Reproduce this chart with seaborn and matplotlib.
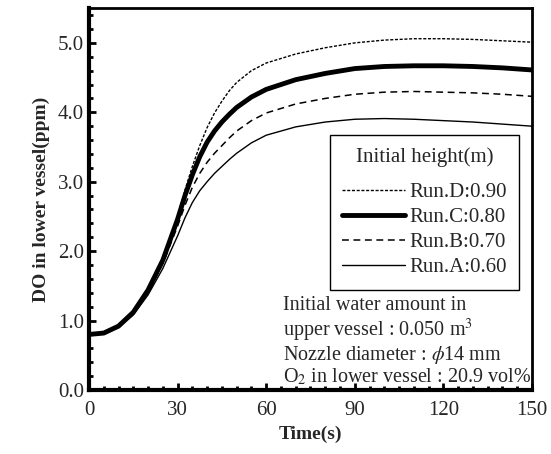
import matplotlib
matplotlib.use("Agg")
import matplotlib.pyplot as plt
import seaborn as sns
import pandas as pd
from matplotlib.ticker import MultipleLocator, FormatStrFormatter

time_s = [0, 5, 10, 15, 20, 25, 30, 32.5, 35, 37.5, 40, 42.5, 45, 47.5, 50, 55, 60, 70, 80, 90, 100, 110, 120, 130, 140, 150]
run_d = [0.80, 0.82, 0.92, 1.12, 1.44, 1.88, 2.50, 2.88, 3.22, 3.52, 3.78, 3.99, 4.16, 4.31, 4.43, 4.60, 4.71, 4.84, 4.93, 5.00, 5.04, 5.06, 5.06, 5.05, 5.03, 5.01]
run_c = [0.80, 0.82, 0.92, 1.12, 1.44, 1.87, 2.46, 2.80, 3.10, 3.36, 3.57, 3.73, 3.86, 3.97, 4.07, 4.22, 4.33, 4.47, 4.56, 4.63, 4.66, 4.67, 4.67, 4.66, 4.64, 4.61]
run_b = [0.80, 0.82, 0.91, 1.10, 1.41, 1.82, 2.36, 2.66, 2.92, 3.12, 3.28, 3.41, 3.52, 3.63, 3.73, 3.88, 3.99, 4.12, 4.20, 4.26, 4.29, 4.30, 4.29, 4.28, 4.26, 4.23]
run_a = [0.80, 0.81, 0.90, 1.08, 1.37, 1.75, 2.22, 2.48, 2.70, 2.87, 3.00, 3.12, 3.22, 3.32, 3.41, 3.56, 3.67, 3.79, 3.86, 3.90, 3.91, 3.90, 3.88, 3.86, 3.83, 3.80]
labels = ["Run.D:0.90", "Run.C:0.80", "Run.B:0.70", "Run.A:0.60"]

sns.set_style("white")
plt.rcParams["font.family"] = ["Liberation Serif", "DejaVu Serif"]
plt.rcParams["mathtext.fontset"] = "stix"

fig = plt.figure(figsize=(5.51, 4.54), dpi=100)
ax = fig.add_axes([0.1615, 0.141, 0.804, 0.841])

series = [run_d, run_c, run_b, run_a]
styles = [dict(lw=1.0, ls=(0, (2.2, 1.2))),
          dict(lw=3.5, ls="-"),
          dict(lw=1.1, ls=(0, (4.5, 3))),
          dict(lw=1.0, ls="-")]
for vals, lab, st in zip(series, labels, styles):
    df = pd.DataFrame({"t": time_s, "v": vals})
    sns.lineplot(data=df, x="t", y="v", ax=ax, color="black", label=lab,
                 linewidth=st["lw"], linestyle=st["ls"])

ax.set_xlim(0, 150)
ax.set_ylim(0, 5.5)
ax.xaxis.set_major_locator(MultipleLocator(30))
ax.xaxis.set_minor_locator(MultipleLocator(5))
ax.yaxis.set_major_locator(MultipleLocator(1))
ax.yaxis.set_minor_locator(MultipleLocator(0.2))
ax.yaxis.set_major_formatter(FormatStrFormatter("%.1f"))
ax.tick_params(which="both", direction="in", top=False, right=False,
               bottom=True, left=True, labelsize=15, color="black")
ax.tick_params(which="major", length=5, width=2)
ax.tick_params(which="minor", length=3, width=2)
ax.tick_params(axis="x", pad=8)
ax.set_yticks([0, 1, 2, 3, 4, 5])

for side in ["left", "bottom"]:
    ax.spines[side].set_linewidth(3)
for side in ["top", "right"]:
    ax.spines[side].set_linewidth(2)
for s in ax.spines.values():
    s.set_color("black")

ax.set_xlabel("Time(s)", fontsize=14, fontweight="bold", labelpad=4)
ax.set_ylabel("DO in lower vessel(ppm)", fontsize=14, fontweight="bold", labelpad=6)

leg = ax.legend(title="Initial height(m)", loc="upper left", bbox_to_anchor=(0.544, 0.6675),
                fontsize=15, title_fontsize=15, frameon=True, fancybox=False,
                edgecolor="black", framealpha=1, borderpad=0.6, labelspacing=0.26,
                handlelength=3.0, handletextpad=0.2, borderaxespad=0)
leg.get_frame().set_linewidth(1.0)
leg._legend_box.sep = 11

ax.text(0.437, 0.245, "Initial water amount in\nupper vessel : 0.050 m$^3$\nNozzle diameter : $\\phi$14 mm\nO$_2$ in lower vessel : 20.9 vol%",
        transform=ax.transAxes, fontsize=14.5, ha="left", va="top", linespacing=1.05)

fig.savefig("out.png", dpi=100)
